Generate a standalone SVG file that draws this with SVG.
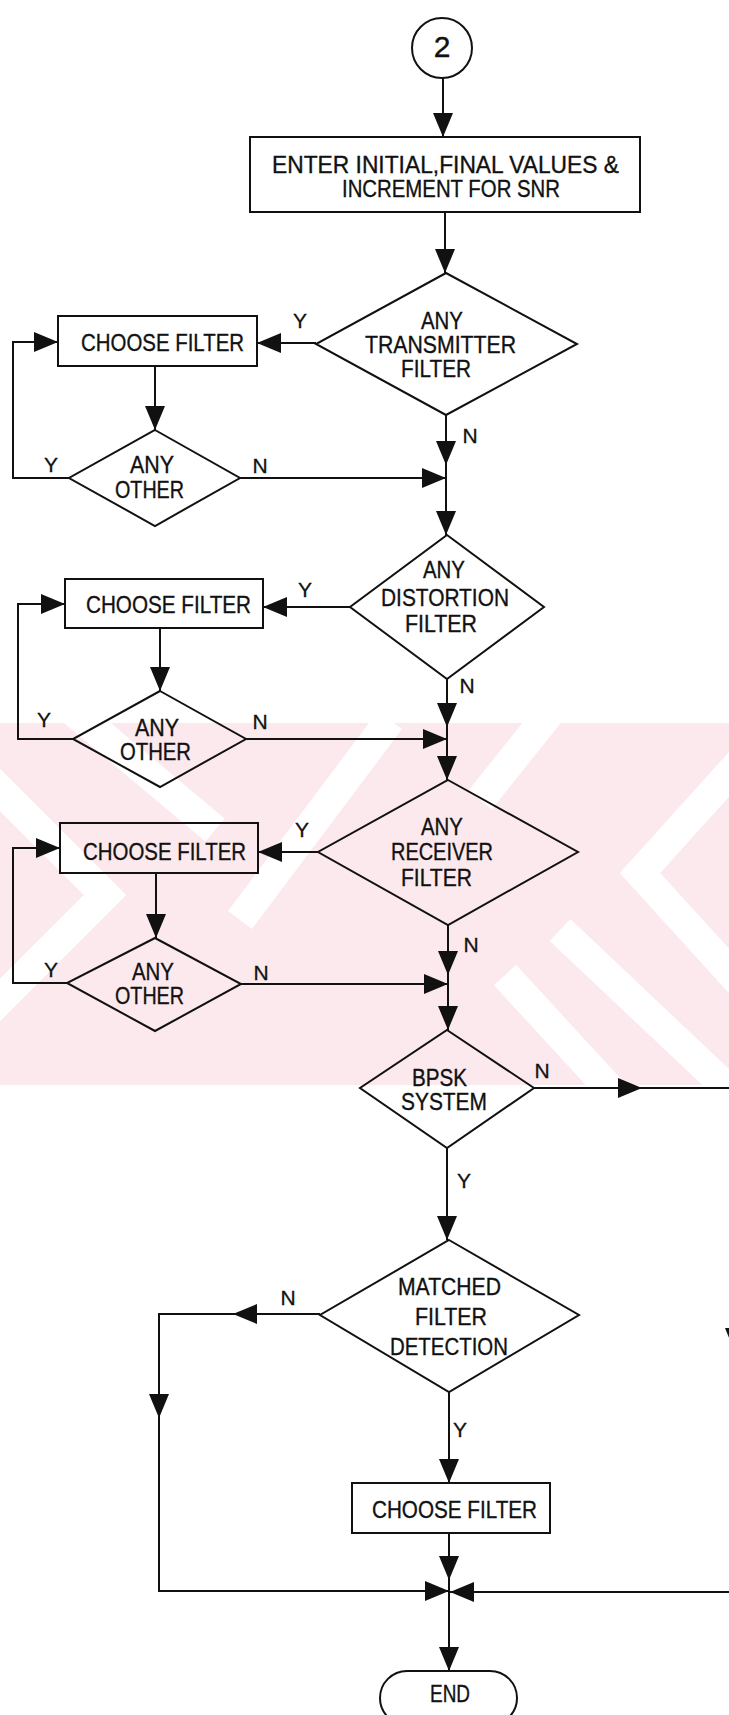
<svg xmlns="http://www.w3.org/2000/svg" width="729" height="1715" viewBox="0 0 729 1715">
  <style>
    .shape { fill: none; stroke: #111; stroke-width: 2; }
    .conn { fill: none; stroke: #111; stroke-width: 2; }
    .t { font-family: "Liberation Sans", Arial, sans-serif; font-size: 24px; fill: #111; stroke: #111; stroke-width: 0.35; }
    .lbl { font-family: "Liberation Sans", Arial, sans-serif; font-size: 21px; fill: #111; stroke: #111; stroke-width: 0.3; text-anchor: middle; }
  </style>
  <defs>
    <marker id="ah" viewBox="0 0 24 20" refX="24" refY="10" markerWidth="24" markerHeight="20" markerUnits="userSpaceOnUse" orient="auto">
      <path d="M0,0 L24,10 L0,20 Z" fill="#111"/>
    </marker>
    <clipPath id="wmclip">
      <rect x="0" y="723" width="729" height="362"/>
    </clipPath>
  </defs>

  <rect x="0" y="0" width="729" height="1715" fill="#fff"/>

  <!-- faint background watermark band -->
  <g id="watermark" clip-path="url(#wmclip)">
    <rect x="0" y="723" width="729" height="362" fill="#fce9ed"/>
    <g fill="none" stroke="#fff" stroke-width="30">
      <path d="M-30,760 L105,895 L-30,1030"/>
      <path d="M60,700 L215,830"/>
      <path d="M390,720 L240,920"/>
      <path d="M560,700 L480,800"/>
      <path d="M760,740 L640,873 L760,1005"/>
      <path d="M560,930 L740,1100"/>
      <path d="M505,975 L620,1100"/>
    </g>
  </g>

  <!-- connectors -->
  <g id="connectors" class="conn">
    <path class="conn" d="M443,78 V137" marker-end="url(#ah)"/>
    <path class="conn" d="M445,212 V273" marker-end="url(#ah)"/>
    <path class="conn" d="M316,343 H257" marker-end="url(#ah)"/>
    <path class="conn" d="M155,366 V430" marker-end="url(#ah)"/>
    <path class="conn" d="M69,478 H13 V342 H58" marker-end="url(#ah)"/>
    <path class="conn" d="M240,478 H446" marker-end="url(#ah)"/>
    <path class="conn" d="M446,415 V465" marker-end="url(#ah)"/>
    <path class="conn" d="M446,465 V535" marker-end="url(#ah)"/>

    <path class="conn" d="M350,607 H263" marker-end="url(#ah)"/>
    <path class="conn" d="M160,628 V691" marker-end="url(#ah)"/>
    <path class="conn" d="M73,739 H18 V604 H65" marker-end="url(#ah)"/>
    <path class="conn" d="M246,739 H447" marker-end="url(#ah)"/>
    <path class="conn" d="M447,679 V727" marker-end="url(#ah)"/>
    <path class="conn" d="M447,727 V780" marker-end="url(#ah)"/>

    <path class="conn" d="M318,852 H258" marker-end="url(#ah)"/>
    <path class="conn" d="M156,873 V938" marker-end="url(#ah)"/>
    <path class="conn" d="M67,983 H13 V848 H60" marker-end="url(#ah)"/>
    <path class="conn" d="M241,984 H448" marker-end="url(#ah)"/>
    <path class="conn" d="M448,925 V975" marker-end="url(#ah)"/>
    <path class="conn" d="M448,975 V1030" marker-end="url(#ah)"/>

    <path class="conn" d="M534,1088 H642" marker-end="url(#ah)"/>
    <path class="conn" d="M642,1088 H729"/>
    <path class="conn" d="M447,1148 V1240" marker-end="url(#ah)"/>

    <path class="conn" d="M320,1314 H233" marker-end="url(#ah)"/>
    <path class="conn" d="M233,1314 H159 V1418" marker-end="url(#ah)"/>
    <path class="conn" d="M159,1418 V1591 H449" marker-end="url(#ah)"/>
    <path class="conn" d="M449,1392 V1483" marker-end="url(#ah)"/>
    <path class="conn" d="M449,1533 V1580" marker-end="url(#ah)"/>
    <path class="conn" d="M449,1580 V1671" marker-end="url(#ah)"/>
    <path class="conn" d="M729,1592 H450" marker-end="url(#ah)"/>
    <polygon points="725,1328 743,1328 734,1350" fill="#111" stroke="none"/>
  </g>

  <!-- connector labels -->
  <g id="labels">
    <text class="lbl" x="300" y="328">Y</text>
    <text class="lbl" x="470" y="443">N</text>
    <text class="lbl" x="51" y="472">Y</text>
    <text class="lbl" x="260" y="473">N</text>

    <text class="lbl" x="305" y="597">Y</text>
    <text class="lbl" x="467" y="693">N</text>
    <text class="lbl" x="44" y="727">Y</text>
    <text class="lbl" x="260" y="729">N</text>

    <text class="lbl" x="302" y="837">Y</text>
    <text class="lbl" x="471" y="952">N</text>
    <text class="lbl" x="51" y="977">Y</text>
    <text class="lbl" x="261" y="980">N</text>

    <text class="lbl" x="542" y="1078">N</text>
    <text class="lbl" x="464" y="1188">Y</text>
    <text class="lbl" x="288" y="1305">N</text>
    <text class="lbl" x="460" y="1437">Y</text>
  </g>

  <!-- nodes -->
  <g id="connector-2">
    <circle class="shape" cx="442" cy="48" r="30"/>
    <text x="442" y="57" font-family="Liberation Sans, Arial, sans-serif" font-size="30" text-anchor="middle" fill="#111" stroke="#111" stroke-width="0.4">2</text>
  </g>

  <g id="enter-values">
    <rect class="shape" x="250" y="137" width="390" height="75"/>
    <text class="t" x="272" y="173" textLength="347" lengthAdjust="spacingAndGlyphs">ENTER INITIAL,FINAL VALUES &amp;</text>
    <text class="t" x="342" y="197" textLength="218" lengthAdjust="spacingAndGlyphs">INCREMENT FOR SNR</text>
  </g>

  <g id="transmitter-filter">
    <polygon class="shape" points="446,273 577,344 446,415 316,344"/>
    <text class="t" x="421" y="329" textLength="42" lengthAdjust="spacingAndGlyphs">ANY</text>
    <text class="t" x="365" y="353" textLength="151" lengthAdjust="spacingAndGlyphs">TRANSMITTER</text>
    <text class="t" x="401" y="377" textLength="70" lengthAdjust="spacingAndGlyphs">FILTER</text>
  </g>

  <g id="choose-filter-1">
    <rect class="shape" x="58" y="316" width="199" height="50"/>
    <text class="t" x="81" y="351" textLength="163" lengthAdjust="spacingAndGlyphs">CHOOSE FILTER</text>
  </g>

  <g id="any-other-1">
    <polygon class="shape" points="155,430 240,478 155,526 69,478"/>
    <text class="t" x="130" y="473" textLength="44" lengthAdjust="spacingAndGlyphs">ANY</text>
    <text class="t" x="115" y="498" textLength="69" lengthAdjust="spacingAndGlyphs">OTHER</text>
  </g>

  <g id="distortion-filter">
    <polygon class="shape" points="447,535 544,607 447,679 350,607"/>
    <text class="t" x="423" y="578" textLength="42" lengthAdjust="spacingAndGlyphs">ANY</text>
    <text class="t" x="381" y="606" textLength="128" lengthAdjust="spacingAndGlyphs">DISTORTION</text>
    <text class="t" x="405" y="632" textLength="72" lengthAdjust="spacingAndGlyphs">FILTER</text>
  </g>

  <g id="choose-filter-2">
    <rect class="shape" x="65" y="579" width="198" height="49"/>
    <text class="t" x="86" y="613" textLength="165" lengthAdjust="spacingAndGlyphs">CHOOSE FILTER</text>
  </g>

  <g id="any-other-2">
    <polygon class="shape" points="160,691 246,739 160,787 73,739"/>
    <text class="t" x="135" y="736" textLength="44" lengthAdjust="spacingAndGlyphs">ANY</text>
    <text class="t" x="120" y="760" textLength="71" lengthAdjust="spacingAndGlyphs">OTHER</text>
  </g>

  <g id="receiver-filter">
    <polygon class="shape" points="448,780 578,852 448,925 318,852"/>
    <text class="t" x="421" y="835" textLength="42" lengthAdjust="spacingAndGlyphs">ANY</text>
    <text class="t" x="391" y="860" textLength="102" lengthAdjust="spacingAndGlyphs">RECEIVER</text>
    <text class="t" x="401" y="886" textLength="71" lengthAdjust="spacingAndGlyphs">FILTER</text>
  </g>

  <g id="choose-filter-3">
    <rect class="shape" x="60" y="823" width="198" height="50"/>
    <text class="t" x="83" y="860" textLength="163" lengthAdjust="spacingAndGlyphs">CHOOSE FILTER</text>
  </g>

  <g id="any-other-3">
    <polygon class="shape" points="155,938 241,984 155,1031 67,983"/>
    <text class="t" x="132" y="980" textLength="42" lengthAdjust="spacingAndGlyphs">ANY</text>
    <text class="t" x="115" y="1004" textLength="69" lengthAdjust="spacingAndGlyphs">OTHER</text>
  </g>

  <g id="bpsk-system">
    <polygon class="shape" points="447,1030 534,1088 447,1148 360,1088"/>
    <text class="t" x="412" y="1086" textLength="55" lengthAdjust="spacingAndGlyphs">BPSK</text>
    <text class="t" x="401" y="1110" textLength="86" lengthAdjust="spacingAndGlyphs">SYSTEM</text>
  </g>

  <g id="matched-filter">
    <polygon class="shape" points="449,1240 579,1315 449,1392 320,1315"/>
    <text class="t" x="398" y="1295" textLength="103" lengthAdjust="spacingAndGlyphs">MATCHED</text>
    <text class="t" x="415" y="1325" textLength="72" lengthAdjust="spacingAndGlyphs">FILTER</text>
    <text class="t" x="390" y="1355" textLength="118" lengthAdjust="spacingAndGlyphs">DETECTION</text>
  </g>

  <g id="choose-filter-4">
    <rect class="shape" x="352" y="1483" width="198" height="50"/>
    <text class="t" x="372" y="1518" textLength="165" lengthAdjust="spacingAndGlyphs">CHOOSE FILTER</text>
  </g>

  <g id="end">
    <path class="shape" d="M407,1671 H490 A27,27 0 0 1 490,1725 H407 A27,27 0 0 1 407,1671 Z"/>
    <text class="t" x="430" y="1702" textLength="40" lengthAdjust="spacingAndGlyphs">END</text>
  </g>
</svg>
